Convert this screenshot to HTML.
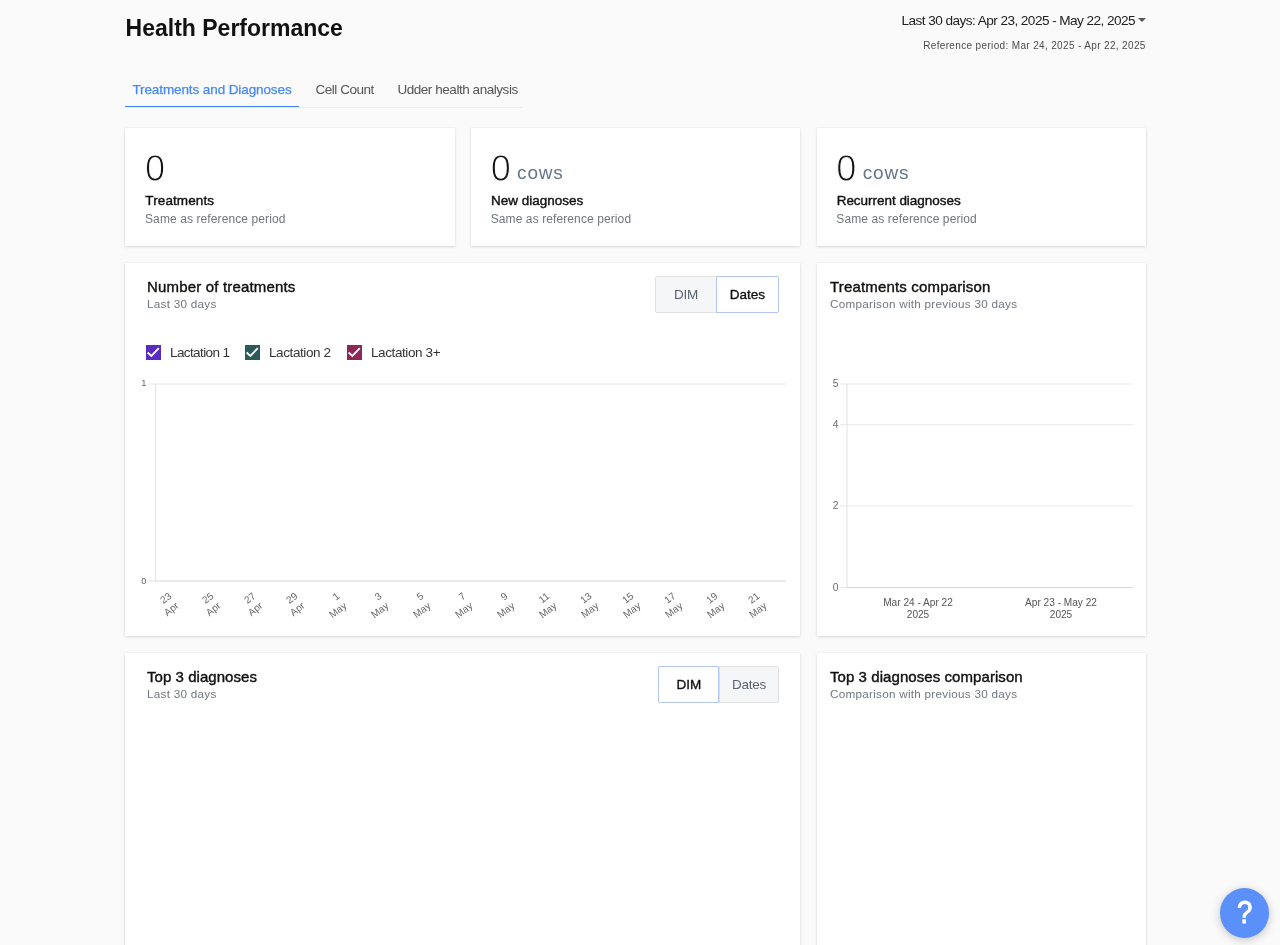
<!DOCTYPE html>
<html lang="en">
<head>
<meta charset="utf-8">
<title>Health Performance</title>
<style>
*{box-sizing:border-box;margin:0;padding:0}
html,body{width:1280px;height:945px;overflow:hidden;background:#fafafa;font-family:"Liberation Sans",Arial,sans-serif;color:#161616}
.abs{position:absolute;white-space:nowrap;line-height:1}
h1{position:absolute;transform:translateY(-.5px);left:125.6px;top:15px;font-size:23px;font-weight:700;line-height:26px;white-space:nowrap;color:#111}
.range{right:144.9px;top:12.7px;font-size:13.6px;letter-spacing:-.55px;color:#222;line-height:15px}
.caret{position:absolute;left:1138px;top:18px;width:0;height:0;border-left:4px solid transparent;border-right:4px solid transparent;border-top:4.5px solid #555}
.refp{right:134.3px;top:40px;font-size:10px;letter-spacing:.35px;color:#4c4c4c;line-height:11px}
.tabs{position:absolute;left:125.4px;top:72px;width:398px;height:36px;border-bottom:1px solid #ececec}
.tab{position:absolute;top:10px;font-size:13.5px;letter-spacing:-.45px;color:#555;line-height:15px;white-space:nowrap}
.tab.on{color:#4589f5;letter-spacing:-.1px;-webkit-text-stroke:.25px #4589f5}
.tabline{position:absolute;left:0;top:33.7px;width:173.4px;height:1.7px;background:#3f82f7}
.card{position:absolute;background:#fff;box-shadow:0 1px 3px rgba(0,0,0,.13),0 0 1px rgba(0,0,0,.08)}
.in{position:absolute;top:1px;width:674px;height:372px}
.kpi .num{position:absolute;transform:translateY(.5px);left:19.7px;top:22px;font-size:36.2px;line-height:36px;color:#161616;-webkit-text-stroke:1.05px #fff}
.kpi .unit{position:absolute;transform:translateY(.4px);left:46.1px;top:35px;font-size:19px;line-height:20px;color:#64748b;letter-spacing:.8px}
.kpi .lbl{position:absolute;left:20px;top:65px;font-size:13.5px;line-height:16px;color:#111;-webkit-text-stroke:.4px #111;letter-spacing:.1px;white-space:nowrap}
.kpi .sub{position:absolute;left:19.7px;top:84.3px;font-size:12px;line-height:14px;color:#70767f;letter-spacing:.1px;white-space:nowrap}
.ttl{position:absolute;margin-top:-.5px;font-size:15px;line-height:17px;color:#111;-webkit-text-stroke:.4px #111;letter-spacing:.17px;white-space:nowrap}
.sttl{position:absolute;font-size:11.7px;line-height:14px;color:#70767f;letter-spacing:.27px;white-space:nowrap}
.tog{position:absolute;height:37px;font-size:13.5px;line-height:35px;text-align:center}
.tog.off{background:#f5f6f8;border:1px solid #e1e1e1;color:#5c6370;letter-spacing:-.3px}
.tog.on{background:#fff;border:1px solid #b3c4f6;color:#111;-webkit-text-stroke:.35px #111;z-index:2}
.cb{position:absolute;top:81px;width:15px;height:15px}
.cbl{position:absolute;top:81px;font-size:13.5px;line-height:15px;letter-spacing:-.4px;color:#333;white-space:nowrap}
svg text{font-family:"Liberation Sans",Arial,sans-serif}
.help{position:absolute;left:1219.8px;top:888px;width:49.4px;height:50px;border-radius:50%;background:#5b8ff9;box-shadow:0 2px 10px rgba(0,0,0,.22)}
.help svg{position:absolute;left:0;top:0}
</style>
</head>
<body>
<h1>Health Performance</h1>
<div class="abs range">Last 30 days: Apr 23, 2025 - May 22, 2025</div>
<div class="caret"></div>
<div class="abs refp">Reference period: Mar 24, 2025 - Apr 22, 2025</div>

<div class="tabs">
  <div class="tab on" style="left:7px">Treatments and Diagnoses</div>
  <div class="tab" style="left:190px">Cell Count</div>
  <div class="tab" style="left:272px">Udder health analysis</div>
  <div class="tabline"></div>
</div>

<div class="card kpi" style="left:125.33px;top:128px;width:329.33px;height:118.4px">
  <div class="num">0</div>
  <div class="lbl">Treatments</div>
  <div class="sub">Same as reference period</div>
</div>
<div class="card kpi" style="left:471px;top:128px;width:329.33px;height:118.4px">
  <div class="num">0</div><div class="unit">cows</div>
  <div class="lbl" style="letter-spacing:0">New diagnoses</div>
  <div class="sub">Same as reference period</div>
</div>
<div class="card kpi" style="left:816.67px;top:128px;width:329.33px;height:118.4px">
  <div class="num">0</div><div class="unit">cows</div>
  <div class="lbl" style="letter-spacing:-.03px">Recurrent diagnoses</div>
  <div class="sub">Same as reference period</div>
</div>

<div class="card" id="c1" style="left:125.33px;top:263px;width:675px;height:373px"><div class="in" style="left:.67px">
  <div class="ttl" style="left:21px;top:14px">Number of treatments</div>
  <div class="sttl" style="left:21px;top:33px">Last 30 days</div>
  <div class="tog off" style="left:529px;top:12px;width:62px;border-radius:2px 0 0 2px">DIM</div>
  <div class="tog on" style="left:590px;top:12px;width:63px;border-radius:0 2px 2px 0">Dates</div>
  <svg class="cb" style="left:20px" viewBox="0 0 15 15"><rect width="15" height="15" fill="#5a2bc2"/><path d="M1.6 7.5L5.4 10.9L12.8 3.2" fill="none" stroke="#fff" stroke-width="1.8"/></svg>
  <div class="cbl" style="left:44px;letter-spacing:-.6px">Lactation 1</div>
  <svg class="cb" style="left:119px" viewBox="0 0 15 15"><rect width="15" height="15" fill="#2b5b59"/><path d="M1.6 7.5L5.4 10.9L12.8 3.2" fill="none" stroke="#fff" stroke-width="1.8"/></svg>
  <div class="cbl" style="left:143px">Lactation 2</div>
  <svg class="cb" style="left:221px" viewBox="0 0 15 15"><rect width="15" height="15" fill="#8e2657"/><path d="M1.6 7.5L5.4 10.9L12.8 3.2" fill="none" stroke="#fff" stroke-width="1.8"/></svg>
  <div class="cbl" style="left:245px">Lactation 3+</div>
  <svg style="position:absolute;left:0;top:0" width="674" height="372" id="chart1">
    <line x1="23" y1="120" x2="660" y2="120" stroke="#e6e6e6"/>
    <line x1="29.7" y1="120" x2="29.7" y2="317" stroke="#e2e2e2"/>
    <line x1="23" y1="317" x2="29.7" y2="317" stroke="#e2e2e2"/>
    <line x1="29.2" y1="317" x2="660" y2="317" stroke="#d6d6d6"/>
    <text x="20.5" y="122.2" font-size="9.3" fill="#666" text-anchor="end">1</text>
    <text x="20.5" y="319.9" font-size="9.3" fill="#666" text-anchor="end">0</text>
    <g font-size="10" fill="#666" text-anchor="end" id="xl">
      <g transform="translate(47.2 332.5) rotate(-38)"><text x="-1.2" y="0">23</text><text x="-1.5" y="12">Apr</text></g>
      <g transform="translate(89.2 332.5) rotate(-38)"><text x="-1.2" y="0">25</text><text x="-1.5" y="12">Apr</text></g>
      <g transform="translate(131.2 332.5) rotate(-38)"><text x="-1.2" y="0">27</text><text x="-1.5" y="12">Apr</text></g>
      <g transform="translate(173.2 332.5) rotate(-38)"><text x="-1.2" y="0">29</text><text x="-1.5" y="12">Apr</text></g>
      <g transform="translate(215.2 332.5) rotate(-38)"><text x="-1.2" y="0">1</text><text x="-1.5" y="12">May</text></g>
      <g transform="translate(257.2 332.5) rotate(-38)"><text x="-1.2" y="0">3</text><text x="-1.5" y="12">May</text></g>
      <g transform="translate(299.2 332.5) rotate(-38)"><text x="-1.2" y="0">5</text><text x="-1.5" y="12">May</text></g>
      <g transform="translate(341.2 332.5) rotate(-38)"><text x="-1.2" y="0">7</text><text x="-1.5" y="12">May</text></g>
      <g transform="translate(383.2 332.5) rotate(-38)"><text x="-1.2" y="0">9</text><text x="-1.5" y="12">May</text></g>
      <g transform="translate(425.2 332.5) rotate(-38)"><text x="-1.2" y="0">11</text><text x="-1.5" y="12">May</text></g>
      <g transform="translate(467.2 332.5) rotate(-38)"><text x="-1.2" y="0">13</text><text x="-1.5" y="12">May</text></g>
      <g transform="translate(509.2 332.5) rotate(-38)"><text x="-1.2" y="0">15</text><text x="-1.5" y="12">May</text></g>
      <g transform="translate(551.2 332.5) rotate(-38)"><text x="-1.2" y="0">17</text><text x="-1.5" y="12">May</text></g>
      <g transform="translate(593.2 332.5) rotate(-38)"><text x="-1.2" y="0">19</text><text x="-1.5" y="12">May</text></g>
      <g transform="translate(635.2 332.5) rotate(-38)"><text x="-1.2" y="0">21</text><text x="-1.5" y="12">May</text></g>
    </g>
  </svg>
</div></div>

<div class="card" id="c2" style="left:816.67px;top:263px;width:329.33px;height:373px"><div class="in" style="left:.33px">
  <div class="ttl" style="left:13px;top:14px">Treatments comparison</div>
  <div class="sttl" style="left:13px;top:33px">Comparison with previous 30 days</div>
  <svg style="position:absolute;left:0;top:0" width="329" height="372">
    <g stroke="#e9e9e9">
      <line x1="23" y1="120" x2="316" y2="120"/>
      <line x1="23" y1="160.7" x2="316" y2="160.7"/>
      <line x1="23" y1="242" x2="316" y2="242"/>
      <line x1="23" y1="323.5" x2="30" y2="323.5"/>
    </g>
    <line x1="30" y1="120" x2="30" y2="323.5" stroke="#e2e2e2"/>
    <line x1="29.5" y1="323.5" x2="316" y2="323.5" stroke="#d6d6d6"/>
    <g font-size="10.3" fill="#6a6a6a" text-anchor="end">
      <text x="21.4" y="123.4">5</text>
      <text x="21.4" y="164.1">4</text>
      <text x="21.4" y="245.4">2</text>
      <text x="21.4" y="326.9">0</text>
    </g>
    <g font-size="10.1" fill="#555" text-anchor="middle">
      <text x="101" y="342">Mar 24 - Apr 22</text>
      <text x="101" y="354">2025</text>
      <text x="244" y="342">Apr 23 - May 22</text>
      <text x="244" y="354">2025</text>
    </g>
  </svg>
</div></div>

<div class="card" id="c3" style="left:125.33px;top:653px;width:675px;height:320px"><div class="in" style="left:.67px">
  <div class="ttl" style="left:21px;top:14px;letter-spacing:.05px">Top 3 diagnoses</div>
  <div class="sttl" style="left:21px;top:33px">Last 30 days</div>
  <div class="tog on" style="left:532.5px;top:12px;width:61px;border-radius:2px 0 0 2px">DIM</div>
  <div class="tog off" style="left:593px;top:12px;width:60px;border-radius:0 2px 2px 0">Dates</div>
</div></div>
<div class="card" id="c4" style="left:816.67px;top:653px;width:329.33px;height:320px"><div class="in" style="left:.33px">
  <div class="ttl" style="left:13px;top:14px;letter-spacing:.07px">Top 3 diagnoses comparison</div>
  <div class="sttl" style="left:13px;top:33px">Comparison with previous 30 days</div>
</div></div>

<div class="help"><svg width="50" height="50"><text transform="translate(24.7 35.2) scale(.86 .98)" x="0" y="0" font-size="32" fill="#fff" stroke="#fff" stroke-width="1.1" stroke-linejoin="round" text-anchor="middle">?</text></svg></div>
</body>
</html>
